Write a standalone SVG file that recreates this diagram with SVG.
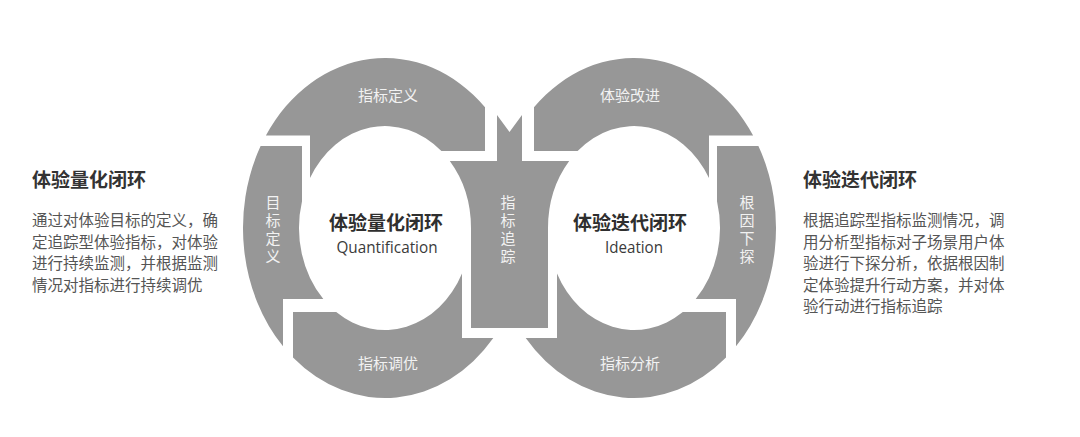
<svg xmlns="http://www.w3.org/2000/svg" width="1080" height="437" viewBox="0 0 1080 437">
<style>
.seg{fill:#979797}
.lbl{font-family:"Noto Sans CJK SC","Noto Sans CJK JP",sans-serif;font-size:15px;fill:#f2f2f2;text-anchor:middle}
.vlbl{font-family:"Noto Sans CJK SC","Noto Sans CJK JP",sans-serif;font-size:15px;fill:#f2f2f2;writing-mode:vertical-rl;text-orientation:upright;letter-spacing:3px}
.title{font-family:"Noto Sans CJK SC","Noto Sans CJK JP",sans-serif;font-size:19px;font-weight:700;fill:#2f2f2f;text-anchor:middle}
.en{font-family:"Open Sans","Noto Sans",sans-serif;font-size:17px;fill:#3a3a3a;text-anchor:middle}
.head{font-family:"Noto Sans CJK SC","Noto Sans CJK JP",sans-serif;font-size:19px;font-weight:700;fill:#333}
.body{font-family:"Noto Sans CJK SC","Noto Sans CJK JP",sans-serif;font-size:15.5px;fill:#555}
</style>
<rect width="1080" height="437" fill="#fff"/>

<g id="connectors"></g>

<!-- Left ring -->
<g id="node-zhibiao-dingyi">
<path class="seg" d="M 265.9 135.5 L 310 135.5 L 310 178.1 A 86 102 0 0 1 441.4 151 L 485 151 L 485 107.3 A 142 170 0 0 0 265.9 135.5 Z"/>
<text class="lbl" x="388" y="101">指标定义</text>
</g>
<g id="node-mubiao-dingyi">
<path class="seg" d="M 260.6 146 L 302 146 L 302 201.3 A 86 102 0 0 0 323.3 299 L 283 299 L 283 346.3 A 142 170 0 0 1 260.6 146 Z"/>
<text class="vlbl" x="273" y="195">目标定义</text>
</g>
<g id="node-zhibiao-tiaoyou">
<path class="seg" d="M 293 312 L 336.2 312 A 86 102 0 0 0 462 273.4 L 462 338 L 493.3 338 A 142 170 0 0 1 293 357.5 Z"/>
<text class="lbl" x="388" y="369">指标调优</text>
</g>

<!-- Shared middle -->
<g id="node-zhibiao-zhuizong">
<path class="seg" d="M 497 115 L 509.5 132 L 522 115 L 522 161 L 569.2 161 A 86 102 0 0 0 548 228 L 548 328 L 471 328 L 471 228 A 86 102 0 0 0 449.8 161 L 497 161 Z"/>
<text class="vlbl" x="508" y="195">指标追踪</text>
</g>

<!-- Right ring -->
<g id="node-tiyan-gaijin">
<path class="seg" d="M 753.1 135.5 L 709 135.5 L 709 178.1 A 86 102 0 0 0 577.6 151 L 534 151 L 534 107.3 A 142 170 0 0 1 753.1 135.5 Z"/>
<text class="lbl" x="630" y="101">体验改进</text>
</g>
<g id="node-genyin-xiatan">
<path class="seg" d="M 758.4 146 L 717 146 L 717 201.3 A 86 102 0 0 1 695.7 299 L 736 299 L 736 346.3 A 142 170 0 0 0 758.4 146 Z"/>
<text class="vlbl" x="747" y="195">根因下探</text>
</g>
<g id="node-zhibiao-fenxi">
<path class="seg" d="M 726 312 L 682.8 312 A 86 102 0 0 1 557 273.4 L 557 338 L 525.7 338 A 142 170 0 0 0 726 357.5 Z"/>
<text class="lbl" x="630" y="369">指标分析</text>
</g>

<!-- Centre titles -->
<g id="node-center-quant">
<text class="title" x="386" y="230">体验量化闭环</text>
<text class="en" x="387" y="253" textLength="101" lengthAdjust="spacingAndGlyphs">Quantification</text>
</g>
<g id="node-center-ideation">
<text class="title" x="630" y="230">体验迭代闭环</text>
<text class="en" x="634" y="253" textLength="58" lengthAdjust="spacingAndGlyphs">Ideation</text>
</g>

<!-- Side descriptions -->
<g id="node-desc-left">
<text class="head" x="32" y="187">体验量化闭环</text>
<text class="body" x="32" y="226">通过对体验目标的定义，确</text>
<text class="body" x="32" y="247.5">定追踪型体验指标，对体验</text>
<text class="body" x="32" y="269">进行持续监测，并根据监测</text>
<text class="body" x="32" y="290.5">情况对指标进行持续调优</text>
</g>
<g id="node-desc-right">
<text class="head" x="803" y="187">体验迭代闭环</text>
<text class="body" x="803" y="226">根据追踪型指标监测情况，调</text>
<text class="body" x="803" y="247.5">用分析型指标对子场景用户体</text>
<text class="body" x="803" y="269">验进行下探分析，依据根因制</text>
<text class="body" x="803" y="290.5">定体验提升行动方案，并对体</text>
<text class="body" x="803" y="312">验行动进行指标追踪</text>
</g>
</svg>
